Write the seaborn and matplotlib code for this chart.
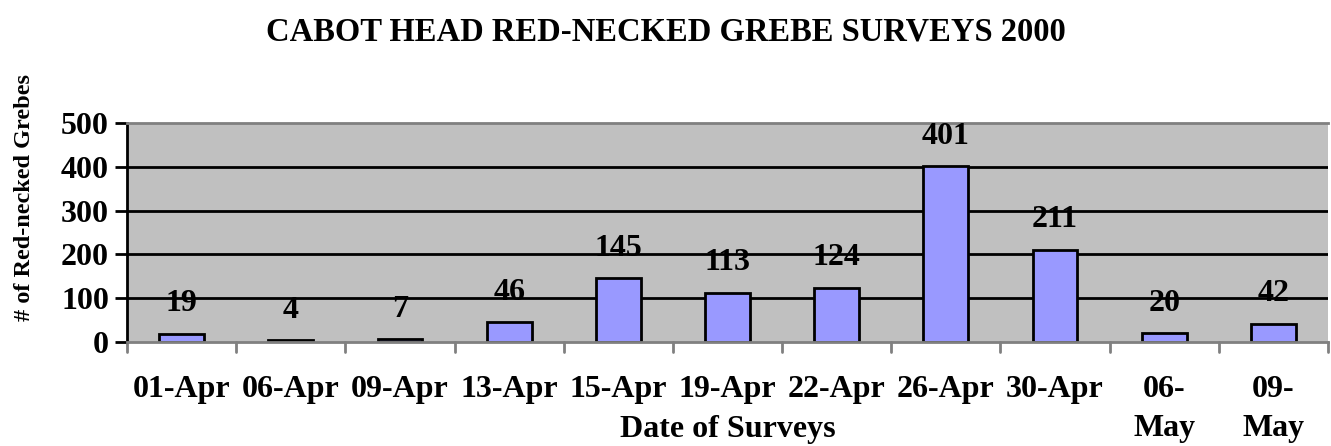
import matplotlib
matplotlib.use("Agg")
import matplotlib.pyplot as plt
import seaborn as sns
import pandas as pd

dates = ["01-Apr", "06-Apr", "09-Apr", "13-Apr", "15-Apr", "19-Apr", "22-Apr",
         "26-Apr", "30-Apr", "06-\nMay", "09-\nMay"]
counts = [19, 4, 7, 46, 145, 113, 124, 401, 211, 20, 42]
yticks = [0, 100, 200, 300, 400, 500]

df = pd.DataFrame({"date": dates, "count": counts})

sns.set_style("white")
plt.rcParams["font.family"] = ["Liberation Serif", "DejaVu Serif"]
plt.rcParams["font.weight"] = "bold"
plt.rcParams["text.color"] = "black"
plt.rcParams["axes.labelcolor"] = "black"
plt.rcParams["xtick.color"] = "black"
plt.rcParams["ytick.color"] = "black"

FS = 23

fig = plt.figure(figsize=(13.31, 4.46), dpi=100)
ax = fig.add_axes([127/1331, 1 - 342/446, (1328-127)/1331, (342-123)/446])
ax.set_facecolor("#C0C0C0")

sns.barplot(data=df, x="date", y="count", ax=ax, color="#9999FF",
            saturation=1, width=0.41, edgecolor="black", linewidth=2)

ax.set_ylim(0, 500)
ax.set_xlim(-0.5, len(dates) - 0.5)
ax.set_yticks(yticks)
ax.set_yticklabels([str(v) for v in yticks], fontsize=FS, fontweight="bold")
for v in yticks[1:-1]:
    ax.axhline(v, color="black", linewidth=2, zorder=0.5)

ax.set_xticks(range(len(dates)))
ax.set_xticklabels(dates, fontsize=FS, fontweight="bold", linespacing=1.45)
ax.tick_params(axis="x", length=0, pad=24)
ax.tick_params(axis="y", length=9, width=2, color="black", pad=4, left=True)
# category separator ticks
for i in range(len(dates) + 1):
    ax.plot([i - 0.5, i - 0.5], [0, -0.045], transform=ax.get_xaxis_transform(),
            color="#808080", linewidth=2, clip_on=False)

for sp in ["top", "bottom", "right"]:
    ax.spines[sp].set_color("#808080")
    ax.spines[sp].set_linewidth(2)
ax.spines["right"].set_visible(False)
ax.spines["left"].set_color("black")
ax.spines["left"].set_linewidth(2)

for i, v in enumerate(counts):
    ax.annotate(str(v), (i, v), xytext=(0, 16), textcoords="offset points",
                ha="center", va="baseline", fontsize=FS, fontweight="bold")

ax.set_xlabel("Date of Surveys", fontsize=FS, fontweight="bold")
ax.xaxis.set_label_coords(0.5, -0.335)
ax.set_ylabel("# of Red-necked Grebes", fontsize=17.5, fontweight="bold")
ax.yaxis.set_label_coords(-0.077, 0.66)
fig.suptitle("CABOT HEAD RED-NECKED GREBE SURVEYS 2000", fontsize=23.5,
             fontweight="bold", y=0.928, va="center")

fig.savefig("out.png", dpi=100)
